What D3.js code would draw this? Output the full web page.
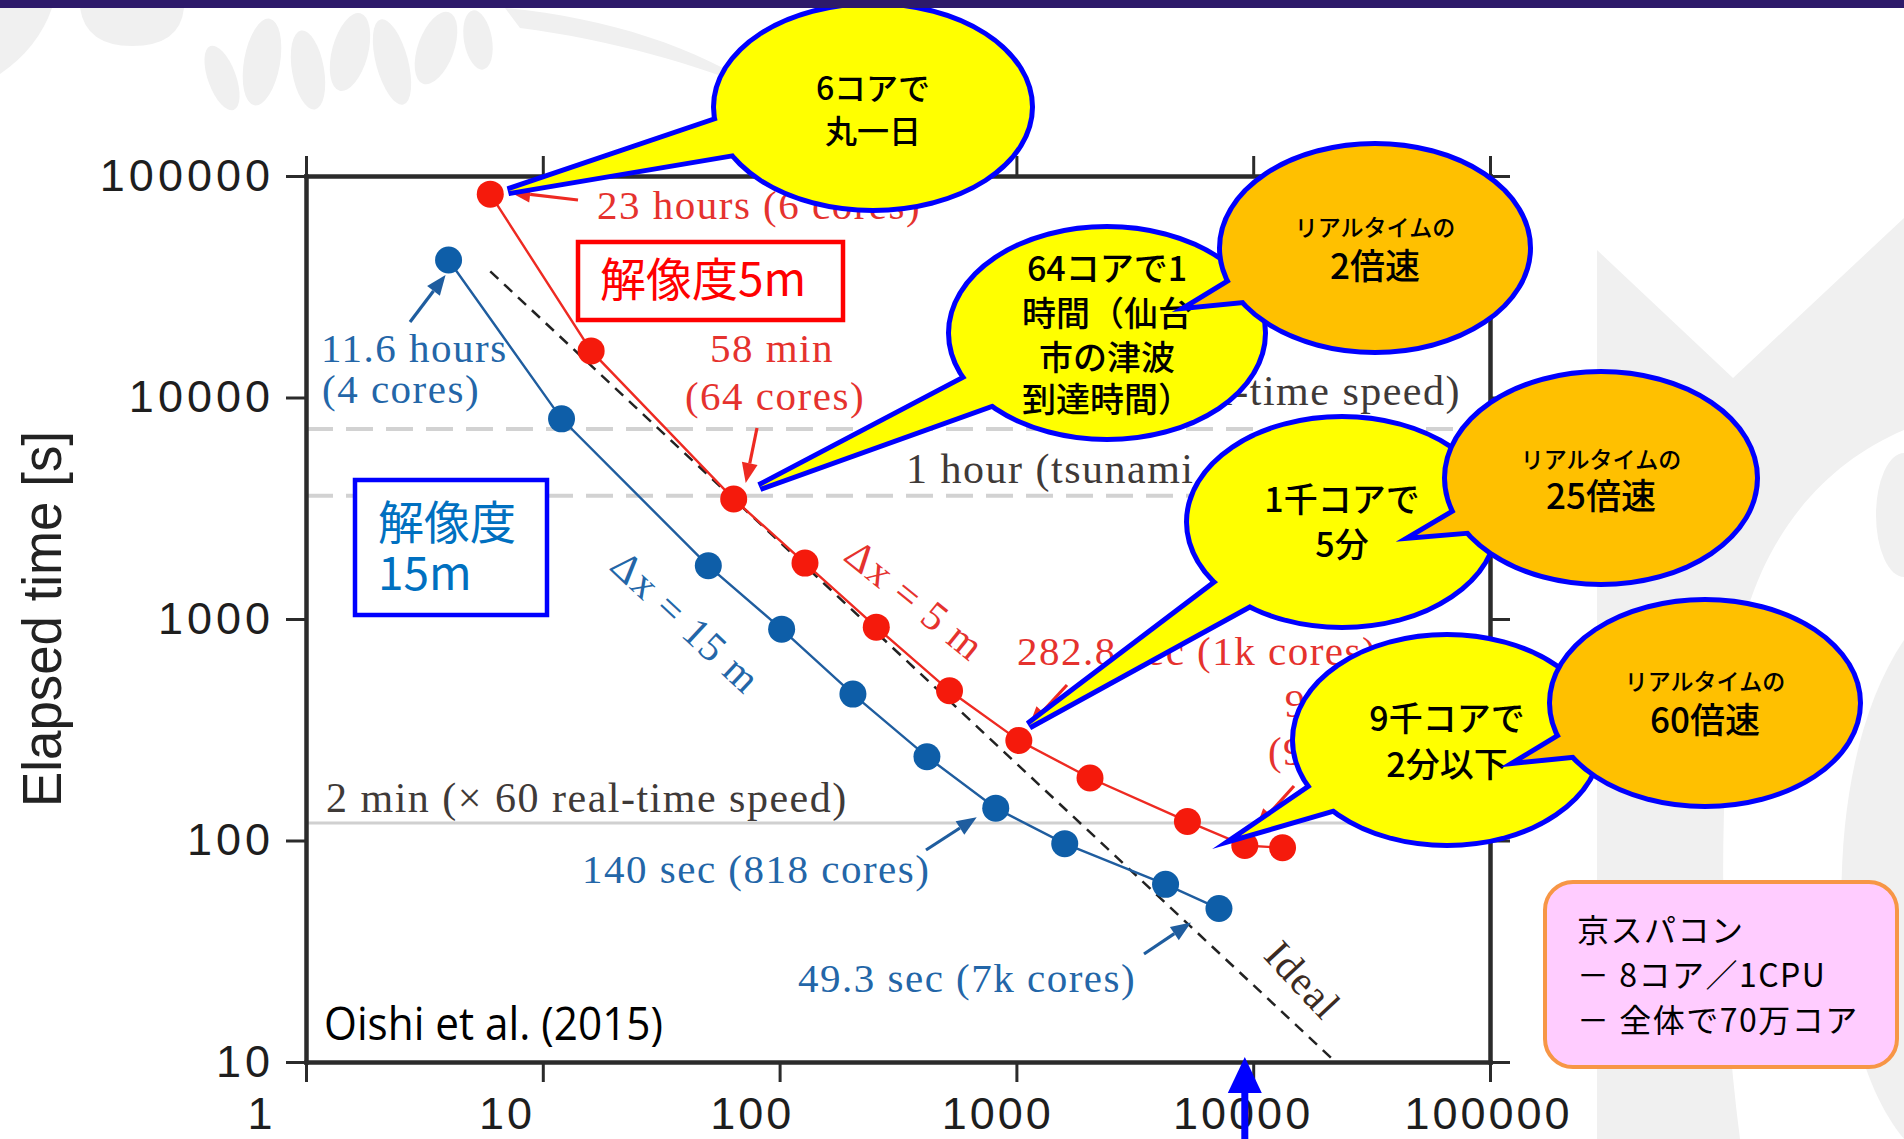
<!DOCTYPE html>
<html>
<head>
<meta charset="utf-8">
<script src="https://cdn.jsdelivr.net/npm/d3@7"></script>
<style>
  html, body { margin: 0; padding: 0; background: #ffffff; overflow: hidden; }
  svg { display: block; }
</style>
</head>
<body>
<svg id="chart" width="1904" height="1139"></svg>
<script>
// Strong scaling of the tsunami inundation code on the K computer
// Δx = 5 m run (red)
const coresFine = [6, 16, 64, 128, 256, 522, 1024, 2046, 5275, 9216, 13300];
const timeFine  = [82800, 16230, 3480, 1788, 919, 474, 282.8, 191.5, 121.9, 94.9, 92.7];
// Δx = 15 m run (blue)
const coresCoarse = [4, 12, 50, 102, 204, 419, 818, 1600, 4265, 7168];
const timeCoarse  = [41760, 8010, 1738, 900, 458, 239, 140, 96.8, 63.4, 49.3];
// ideal scaling (time ∝ 1 / cores)
const idealCores = [6, 22272];
const idealTime  = [37120, 10];
// axis ticks
const xTicks = [1, 10, 100, 1000, 10000, 100000];
const yTicks = [10, 100, 1000, 10000, 100000];
// reference durations [s]
const refTimes  = [7200, 3600, 120];
const refLabels = ["2 hours (real-time speed)", "1 hour (tsunami arrival time)", "2 min (\u00d7 60 real-time speed)"];

const SERIF = "'Liberation Serif','Times New Roman',serif";
const SANS = "'Liberation Sans',Arial,sans-serif";
const CJK = "'Noto Sans CJK JP','Noto Sans',sans-serif";
const RED = "#ee2a22", RED_PT = "#f51a0c", RED_TXT = "#e5322e";
const BLUE = "#1f5d9f", BLUE_PT = "#0e5ea8", BLUE_TXT = "#2366a8";

const svg = d3.select("#chart");

const x = d3.scaleLog().domain([1, 100000]).range([306, 1490]);
const y = d3.scaleLog().domain([10, 100000]).range([1062, 176]);

// ---------- faint background ornament ----------
const deco = svg.append("g").attr("fill", "#f0f0f0");
deco.append("path").attr("d", "M0,8 L52,8 Q38,48 0,74 Z");
deco.append("path").attr("d", "M80,8 L184,8 Q180,46 132,46 Q86,46 80,8 Z");
[[222, 78, 14, 34, -20], [262, 62, 18, 44, 10], [308, 70, 16, 40, -10], [350, 52, 18, 40, 15],
 [392, 62, 16, 44, -15], [436, 48, 18, 38, 20], [478, 40, 14, 30, -10]].forEach(d => {
  deco.append("ellipse").attr("cx", d[0]).attr("cy", d[1]).attr("rx", d[2]).attr("ry", d[3])
    .attr("transform", `rotate(${d[4]},${d[0]},${d[1]})`);
});
deco.append("path").attr("d", "M505,8 C610,18 700,48 770,96 C705,66 612,40 520,28 Z");
deco.append("path").attr("d", "M1597,250 L1733,378 L1904,218 L1904,430 C1810,470 1742,560 1730,700 C1718,850 1722,1000 1740,1139 L1597,1139 Z");
deco.append("ellipse").attr("cx", 1904).attr("cy", 515).attr("rx", 28).attr("ry", 62);
deco.append("path").attr("d", "M1904,640 C1850,720 1832,850 1846,980 C1856,1060 1880,1110 1904,1139 Z");

// ---------- reference durations ----------
const ref = svg.append("g");
refTimes.forEach((t, i) => {
  ref.append("line")
    .attr("x1", x(1)).attr("x2", x(100000))
    .attr("y1", y(t)).attr("y2", y(t))
    .attr("stroke", i < 2 ? "#d2d2d2" : "#d0d0d0")
    .attr("stroke-width", i < 2 ? 4 : 3)
    .attr("stroke-dasharray", i < 2 ? "27,13" : null);
});
const refText = ref.append("g").attr("font-family", SERIF).attr("font-size", 42)
  .attr("fill", "#3f3a38").attr("letter-spacing", 1.5);
refText.append("text").attr("x", 1461).attr("y", y(refTimes[0]) - 24)
  .attr("text-anchor", "end").text(refLabels[0]);
refText.append("text").attr("x", 906).attr("y", y(refTimes[1]) - 13).text(refLabels[1]);
refText.append("text").attr("x", 326).attr("y", y(refTimes[2]) - 11).text(refLabels[2]);

// ---------- ideal line ----------
svg.append("path")
  .datum(idealCores.map((c, i) => [c, idealTime[i]]))
  .attr("d", d3.line().x(d => x(d[0])).y(d => y(d[1])))
  .attr("fill", "none").attr("stroke", "#222").attr("stroke-width", 2.5)
  .attr("stroke-dasharray", "11,8");

// ---------- series ----------
const fine = coresFine.map((c, i) => [c, timeFine[i]]);
const coarse = coresCoarse.map((c, i) => [c, timeCoarse[i]]);
const line = d3.line().x(d => x(d[0])).y(d => y(d[1]));
svg.append("path").datum(coarse).attr("d", line).attr("fill", "none")
  .attr("stroke", BLUE).attr("stroke-width", 2.4);
svg.append("path").datum(fine).attr("d", line).attr("fill", "none")
  .attr("stroke", RED).attr("stroke-width", 2.4);
svg.append("g").selectAll("circle").data(coarse).join("circle")
  .attr("cx", d => x(d[0])).attr("cy", d => y(d[1])).attr("r", 13.5).attr("fill", BLUE_PT);
svg.append("g").selectAll("circle").data(fine).join("circle")
  .attr("cx", d => x(d[0])).attr("cy", d => y(d[1])).attr("r", 13.5).attr("fill", RED_PT);

// ---------- point annotations ----------
const pt = (d, dx, dy) => [x(d[0]) + dx, y(d[1]) + dy];
function arrow(g, from, to, color) {
  const ang = Math.atan2(to[1] - from[1], to[0] - from[0]);
  const L = 20, W = 8;
  const bx = to[0] - L * Math.cos(ang), by = to[1] - L * Math.sin(ang);
  g.append("line").attr("x1", from[0]).attr("y1", from[1]).attr("x2", bx).attr("y2", by)
    .attr("stroke", color).attr("stroke-width", 3.2);
  g.append("polygon").attr("fill", color).attr("points", [
    to,
    [bx - W * Math.sin(ang), by + W * Math.cos(ang)],
    [bx + W * Math.sin(ang), by - W * Math.cos(ang)]
  ].map(p => p.join(",")).join(" "));
}
const ann = svg.append("g").attr("font-family", SERIF).attr("font-size", 41).attr("letter-spacing", 1.5);
function label(txt, xx, yy, color, anchor) {
  ann.append("text").attr("x", xx).attr("y", yy).attr("fill", color)
    .attr("text-anchor", anchor || "start").text(txt);
}
// Δx = 5 m
label("23 hours (6 cores)", 597, 219, RED_TXT);
arrow(ann, [578, 200], pt(fine[0], 20, -2), RED);
label("58 min", 772, 362, RED_TXT, "middle");
label("(64 cores)", 775, 410, RED_TXT, "middle");
arrow(ann, [757, 428], pt(fine[2], 12, -16), RED);
label("282.8 sec (1k cores)", 1017, 665, RED_TXT);
arrow(ann, [1067, 685], pt(fine[6], 10, -14), RED);
label("94.9 sec", 1358, 717, RED_TXT, "middle");
label("(9k cores)", 1358, 765, RED_TXT, "middle");
arrow(ann, [1294, 786], pt(fine[9], 11, -17), RED);
ann.append("text").attr("transform", "translate(915,600) rotate(39)")
  .attr("text-anchor", "middle").attr("dominant-baseline", "central")
  .attr("fill", RED_TXT).text("\u0394x = 5 m");
// Δx = 15 m
label("11.6 hours", 321, 362, BLUE_TXT);
label("(4 cores)", 322, 403, BLUE_TXT);
arrow(ann, [410, 322], pt(coarse[0], -3, 15), BLUE);
label("140 sec (818 cores)", 582, 883, BLUE_TXT);
arrow(ann, [926, 850], pt(coarse[6], -19, 9), BLUE);
label("49.3 sec (7k cores)", 798, 992, BLUE_TXT);
arrow(ann, [1144, 954], pt(coarse[9], -28, 14), BLUE);
ann.append("text").attr("transform", "translate(686,622) rotate(43)")
  .attr("text-anchor", "middle").attr("dominant-baseline", "central")
  .attr("fill", BLUE_TXT).text("\u0394x = 15 m");
ann.append("text").attr("transform", "translate(1303,980) rotate(47)")
  .attr("text-anchor", "middle").attr("dominant-baseline", "central")
  .attr("fill", "#3b2b22").text("Ideal");

// ---------- axes ----------
const axes = svg.append("g").attr("class", "axes");
function styleAxis(g) {
  g.select(".domain").attr("stroke", "#2b2b2b").attr("stroke-width", 4.5);
  g.selectAll(".tick line").attr("stroke", "#2b2b2b").attr("stroke-width", 3);
  g.selectAll(".tick text").attr("fill", "#1e1e1e").attr("font-family", SANS)
    .attr("font-size", 45).attr("letter-spacing", 4);
}
axes.append("g").attr("transform", `translate(0,${y(100000)})`)
  .call(d3.axisTop(x).tickValues(xTicks).tickSize(20).tickSizeOuter(0).tickFormat(""))
  .call(styleAxis);
axes.append("g").attr("transform", `translate(${x(100000)},0)`)
  .call(d3.axisRight(y).tickValues(yTicks).tickSize(20).tickSizeOuter(0).tickFormat(""))
  .call(styleAxis);
axes.append("g").attr("transform", `translate(${x(1)},0)`)
  .call(d3.axisLeft(y).tickValues(yTicks).tickSize(20).tickSizeOuter(0).tickPadding(12)
    .tickFormat(d3.format("d")))
  .call(styleAxis);
const bottom = axes.append("g").attr("transform", `translate(0,${y(10)})`)
  .call(d3.axisBottom(x).tickValues(xTicks).tickSize(20).tickSizeOuter(0).tickPadding(15)
    .tickFormat(d3.format("d")))
  .call(styleAxis);
bottom.selectAll(".tick text").attr("letter-spacing", 3).attr("dx", (d, i) => -45 + i * 8.6);
axes.selectAll(".domain").attr("stroke-linecap", "square");

svg.append("text")
  .attr("transform", "translate(61,619) rotate(-90)")
  .attr("text-anchor", "middle")
  .attr("font-family", SANS).attr("font-size", 56).attr("fill", "#222")
  .attr("textLength", 376).attr("lengthAdjust", "spacingAndGlyphs")
  .text("Elapsed time [s]");

// ---------- resolution boxes ----------
svg.append("rect").attr("x", 578).attr("y", 242).attr("width", 265).attr("height", 78)
  .attr("fill", "#fff").attr("stroke", "#ff0000").attr("stroke-width", 4.5);
svg.append("text").attr("x", 600).attr("y", 296).attr("font-family", CJK).attr("font-size", 46)
  .attr("fill", "#ff0000").text("解像度5m");
svg.append("rect").attr("x", 355).attr("y", 480).attr("width", 192).attr("height", 135)
  .attr("fill", "#fff").attr("stroke", "#0000ff").attr("stroke-width", 4.5);
svg.append("text").attr("x", 378).attr("y", 539).attr("font-family", CJK).attr("font-size", 46)
  .attr("fill", "#0070c0").text("解像度");
svg.append("text").attr("x", 378).attr("y", 590).attr("font-family", CJK).attr("font-size", 46)
  .attr("fill", "#0070c0").text("15m");

svg.append("text").attr("x", 324).attr("y", 1040).attr("font-family", "'Open Sans','Noto Sans',sans-serif")
  .attr("font-size", 46).attr("fill", "#000")
  .attr("textLength", 339).attr("lengthAdjust", "spacingAndGlyphs")
  .text("Oishi et al. (2015)");

// ---------- speech bubbles ----------
const YELLOW = "#ffff00", ORANGE = "#ffc000", OUTLINE = "#0000ff";
const bubbles = [
  { c: [873, 107], r: [157, 101], t: [150, 177], tip: pt(fine[0], 18, -3), fill: YELLOW,
    lines: [["6コアで", 32, -19], ["丸一日", 32, 24]] },
  { c: [1107, 333], r: [156, 104], t: [134, 157], tip: pt(fine[2], 26, -12), fill: YELLOW,
    lines: [["64コアで1", 34, -64], ["時間（仙台", 34, -19], ["市の津波", 34, 25], ["到達時間）", 34, 67]] },
  { c: [1375, 248], r: [153, 102], t: [144, 166], tip: [1193, 305], fill: ORANGE,
    lines: [["リアルタイムの", 23, -20], ["2倍速", 35, 18]] },
  { c: [1342, 522], r: [153, 103], t: [124, 147], tip: pt(fine[6], 10, -15), fill: YELLOW,
    lines: [["1千コアで", 34, -22], ["5分", 34, 23]] },
  { c: [1601, 478], r: [154, 104], t: [144, 166], tip: [1417, 535], fill: ORANGE,
    lines: [["リアルタイムの", 23, -18], ["25倍速", 35, 18]] },
  { c: [1447, 740], r: [152, 103], t: [134, 157], tip: pt(fine[9], -4, -10), fill: YELLOW,
    lines: [["9千コアで", 34, -21], ["2分以下", 34, 25]] },
  { c: [1705, 703], r: [153, 101], t: [144, 166], tip: [1522, 760], fill: ORANGE,
    lines: [["リアルタイムの", 23, -21], ["60倍速", 35, 17]] }
];
bubbles.forEach(b => {
  const g = svg.append("g");
  const [cx, cy] = b.c, [rx, ry] = b.r;
  const onEdge = deg => {
    const a = deg * Math.PI / 180;
    // base corners sit a little inside the oval so the outline runs cleanly into the tail
    return [cx + 0.82 * rx * Math.cos(a), cy + 0.82 * ry * Math.sin(a)];
  };
  const tail = [onEdge(b.t[0]), b.tip, onEdge(b.t[1])].map(p => p.join(",")).join(" ");
  [true, false].forEach(outline => {
    g.append("ellipse").attr("cx", cx).attr("cy", cy).attr("rx", rx).attr("ry", ry)
      .attr("fill", b.fill).attr("stroke", outline ? OUTLINE : "none").attr("stroke-width", 10);
    g.append("polygon").attr("points", tail)
      .attr("fill", b.fill).attr("stroke", outline ? OUTLINE : "none").attr("stroke-width", 10)
      .attr("stroke-linejoin", "miter").attr("stroke-miterlimit", 10);
  });
  b.lines.forEach(([txt, size, off]) => {
    g.append("text").attr("x", cx).attr("y", cy + off + size * 0.36)
      .attr("text-anchor", "middle").attr("font-family", CJK).attr("font-size", size)
      .attr("font-weight", 500).attr("fill", "#000").text(txt);
  });
});

// ---------- machine note ----------
svg.append("rect").attr("x", 1545).attr("y", 882).attr("width", 352).attr("height", 185)
  .attr("rx", 28).attr("ry", 28)
  .attr("fill", "#ffccff").attr("stroke", "#f79646").attr("stroke-width", 4);
const note = svg.append("g").attr("font-family", CJK).attr("font-size", 32)
  .attr("letter-spacing", 1.5).attr("fill", "#000");
note.append("text").attr("x", 1577).attr("y", 942).text("京スパコン");
note.append("text").attr("x", 1577).attr("y", 987).text("－ 8コア／1CPU");
note.append("text").attr("x", 1577).attr("y", 1032).text("－ 全体で70万コア");

// ---------- marker arrow under the 9k-core run ----------
const ax = x(9216);
svg.append("rect").attr("x", ax - 3.5).attr("y", 1090).attr("width", 7).attr("height", 49).attr("fill", "#0000ff");
svg.append("polygon").attr("fill", "#0000ff")
  .attr("points", `${ax},1057 ${ax - 17},1093 ${ax + 17},1093`);

// ---------- title band ----------
svg.append("rect").attr("x", 0).attr("y", 0).attr("width", 1904).attr("height", 8).attr("fill", "#2d1a6a");
</script>
</body>
</html>
